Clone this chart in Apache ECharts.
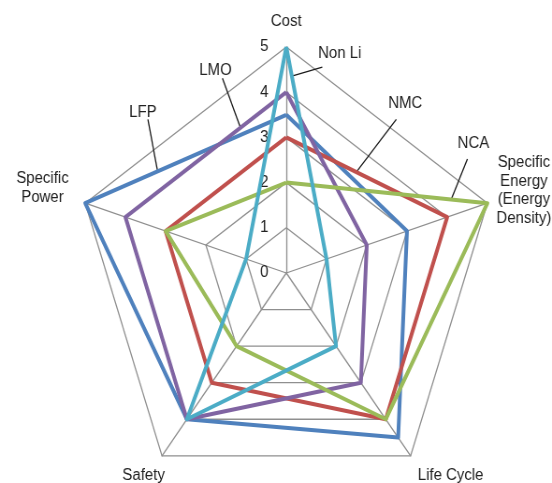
<!DOCTYPE html>
<html>
<head>
<meta charset="utf-8">
<script src="https://cdn.jsdelivr.net/npm/echarts@6/dist/echarts.min.js"></script>
<style>
html,body{margin:0;padding:0;background:#fff;overflow:hidden;}
#chart{width:590px;height:483px;transform:scaleX(0.9356);transform-origin:0 0;}
</style>
</head>
<body>
<div id="chart"></div>
<script>
// Indicators in counter-clockwise order starting at the top
const indicatorNames = ['Cost', 'Specific\nPower', 'Safety', 'Life Cycle', 'Specific\nEnergy\n(Energy\nDensity)'];
const maxValue = 5;
const seriesNames = ['LFP', 'NMC', 'LMO', 'NCA', 'Non Li'];
const LFP   = [3.5, 5, 4, 4.5, 3];
const NMC   = [3, 3, 3, 4, 4];
const LMO   = [4, 4, 4, 3, 2];
const NCA   = [2, 3, 2, 4, 5];
const NonLi = [5, 1, 4, 2, 1];
const seriesValues = [LFP, NMC, LMO, NCA, NonLi];
const colors = ['#4F81BD', '#C0504D', '#8064A2', '#9BBB59', '#4BACC6'];

const SX = 0.9356;
const FONT = 'Liberation Sans, Arial, sans-serif';
const TXT = '#222';

const chart = echarts.init(document.getElementById('chart'));

const indicatorExtras = [
  { nameGap: 16, axisLabel: { show: true, margin: 19, fontSize: 16, color: TXT, fontFamily: FONT } },
  { nameGap: 48, nameTextStyle: { align: 'center', padding: [16, 0, 0, 0] } },
  { nameGap: 13, nameTextStyle: { align: 'center', verticalAlign: 'top', padding: [0, 24, 0, 0] } },
  { nameGap: 13, nameTextStyle: { align: 'left', verticalAlign: 'top' } },
  { nameGap: 41, nameTextStyle: { align: 'center', padding: [41, 0, 0, 0] } }
];

const indicator = indicatorNames.map((n, i) => Object.assign({ name: n, max: maxValue, min: 0 }, indicatorExtras[i]));

chart.setOption({
  animation: false,
  backgroundColor: '#fff',
  radar: {
    center: [306, 273],
    radius: 226,
    startAngle: 90,
    splitNumber: 5,
    shape: 'polygon',
    indicator: indicator,
    axisName: { color: TXT, fontSize: 16, fontFamily: FONT, lineHeight: 18.5 },
    axisLine: { lineStyle: { color: '#8f8f8f', width: 1.3 } },
    splitLine: { lineStyle: { color: '#8f8f8f', width: 1.3 } },
    splitArea: { show: false },
    axisTick: { show: false },
    axisLabel: { show: false }
  },
  series: seriesNames.map((name, i) => ({
    type: 'radar',
    name: name,
    symbol: 'none',
    z: 2 + i * 0.01,
    lineStyle: { color: colors[i], width: 4 },
    itemStyle: { color: colors[i] },
    data: [{ value: seriesValues[i], name: name }]
  }))
});

// Callout labels anchored on series edges (Cost -> neighbour indicator)
const callouts = [
  { text: 'LFP',    values: LFP,   to: 1, t: 0.64,  lead: [-9.7, -51.9], label: [-14.7, -58.9] },
  { text: 'LMO',    values: LMO,   to: 1, t: 0.285, lead: [-18, -49.5],  label: [-25, -57.5] },
  { text: 'Non Li', values: NonLi, to: 4, t: 0.137, lead: [30.5, -9],    label: [48, -22] },
  { text: 'NMC',    values: NMC,   to: 4, t: 0.435, lead: [40, -52.7],   label: [49, -68.7] },
  { text: 'NCA',    values: NCA,   to: 4, t: 0.82,  lead: [16.2, -40.5], label: [22.2, -55.5] }
];

const radarCS = chart.getModel().getComponent('radar', 0).coordinateSystem;
const graphics = [];
callouts.forEach(c => {
  const p0 = radarCS.dataToPoint(c.values[0], 0);
  const p1 = radarCS.dataToPoint(c.values[c.to], c.to);
  const ax = p0[0] + (p1[0] - p0[0]) * c.t;
  const ay = p0[1] + (p1[1] - p0[1]) * c.t;
  graphics.push({
    type: 'line', z: 1,
    shape: { x1: ax, y1: ay, x2: ax + c.lead[0] / SX, y2: ay + c.lead[1] },
    style: { stroke: '#1a1a1a', lineWidth: 1.3 }
  });
  graphics.push({
    type: 'text', z: 10,
    x: ax + c.label[0] / SX, y: ay + c.label[1],
    style: { text: c.text, fill: TXT, font: '16px ' + FONT, align: 'center', verticalAlign: 'middle' }
  });
});
chart.setOption({ graphic: graphics });
</script>
</body>
</html>
